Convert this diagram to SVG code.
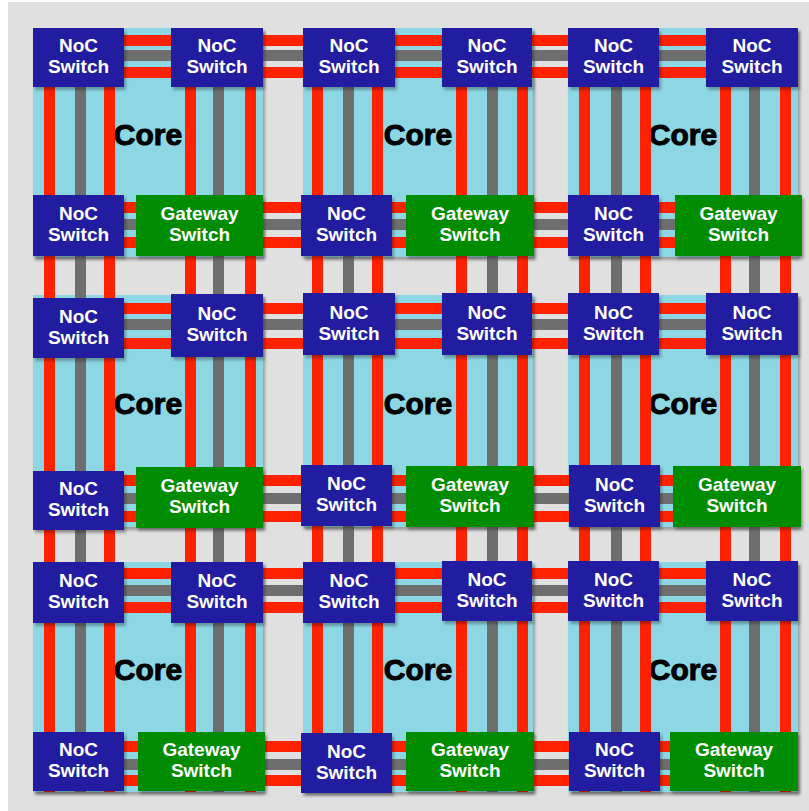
<svg xmlns="http://www.w3.org/2000/svg" width="809" height="811" viewBox="0 0 809 811">
<defs>
<filter id="sh" x="-10%" y="-10%" width="125%" height="125%">
<feDropShadow dx="2" dy="3" stdDeviation="1.5" flood-color="#000" flood-opacity="0.3"/>
</filter>
<style>
.core{fill:#8dd7e5;filter:url(#sh)}
.noc{fill:#221ea0;filter:url(#sh)}
.gw{fill:#008c00;filter:url(#sh)}
.r{fill:#ff2200}
.g{fill:#6e6e6e}
.t{font-family:"Liberation Sans",Arial,sans-serif;font-weight:bold;font-size:19px;fill:#fff;text-anchor:middle}
.c{font-family:"Liberation Sans",Arial,sans-serif;font-weight:bold;font-size:30px;fill:#000;stroke:#000;stroke-width:1;text-anchor:middle}
</style>
</defs>
<rect x="0" y="0" width="809" height="811" fill="#fff"/>
<rect x="8" y="2" width="801" height="809" fill="#e0e0e0"/>

<g id="cores">
<g id="core-1-1"><rect class="core" x="33" y="28" width="230" height="229"/><text class="c" x="148" y="145">Core</text></g>
<g id="core-1-2"><rect class="core" x="303" y="28" width="230" height="229"/><text class="c" x="418" y="145">Core</text></g>
<g id="core-1-3"><rect class="core" x="568" y="28" width="230" height="229"/><text class="c" x="683" y="145">Core</text></g>
<g id="core-2-1"><rect class="core" x="33" y="295" width="230" height="232"/><text class="c" x="148" y="413.5">Core</text></g>
<g id="core-2-2"><rect class="core" x="303" y="295" width="230" height="232"/><text class="c" x="418" y="413.5">Core</text></g>
<g id="core-2-3"><rect class="core" x="568" y="295" width="230" height="232"/><text class="c" x="683" y="413.5">Core</text></g>
<g id="core-3-1"><rect class="core" x="33" y="562" width="230" height="230"/><text class="c" x="148" y="679.5">Core</text></g>
<g id="core-3-2"><rect class="core" x="303" y="562" width="230" height="230"/><text class="c" x="418" y="679.5">Core</text></g>
<g id="core-3-3"><rect class="core" x="568" y="562" width="230" height="230"/><text class="c" x="683" y="679.5">Core</text></g>
</g>

<g id="connectors">
<rect class="r" x="33" y="35" width="765" height="11"/>
<rect class="g" x="33" y="50" width="765" height="11"/>
<rect class="r" x="33" y="67" width="765" height="11"/>
<rect class="r" x="33" y="202" width="765" height="11"/>
<rect class="g" x="33" y="219" width="765" height="11"/>
<rect class="r" x="33" y="237" width="765" height="11"/>
<rect class="r" x="33" y="303" width="765" height="11"/>
<rect class="g" x="33" y="319" width="765" height="11"/>
<rect class="r" x="33" y="338" width="765" height="11"/>
<rect class="r" x="33" y="475" width="765" height="11"/>
<rect class="g" x="33" y="493" width="765" height="11"/>
<rect class="r" x="33" y="511" width="765" height="11"/>
<rect class="r" x="33" y="568" width="765" height="11"/>
<rect class="g" x="33" y="585" width="765" height="11"/>
<rect class="r" x="33" y="602" width="765" height="11"/>
<rect class="r" x="33" y="741" width="765" height="11"/>
<rect class="g" x="33" y="759" width="765" height="11"/>
<rect class="r" x="33" y="775" width="765" height="11"/>

<rect class="r" x="44" y="28" width="11" height="764"/>
<rect class="g" x="75" y="28" width="11" height="764"/>
<rect class="r" x="104" y="28" width="11" height="764"/>
<rect class="r" x="185" y="28" width="11" height="764"/>
<rect class="g" x="213" y="28" width="11" height="764"/>
<rect class="r" x="245" y="28" width="11" height="764"/>
<rect class="r" x="312" y="28" width="11" height="764"/>
<rect class="g" x="343" y="28" width="11" height="764"/>
<rect class="r" x="372" y="28" width="11" height="764"/>
<rect class="r" x="456" y="28" width="11" height="764"/>
<rect class="g" x="487" y="28" width="11" height="764"/>
<rect class="r" x="517" y="28" width="11" height="764"/>
<rect class="r" x="579" y="28" width="11" height="764"/>
<rect class="g" x="611" y="28" width="11" height="764"/>
<rect class="r" x="640" y="28" width="11" height="764"/>
<rect class="r" x="720" y="28" width="11" height="764"/>
<rect class="g" x="749" y="28" width="11" height="764"/>
<rect class="r" x="780" y="28" width="11" height="764"/>
</g>

<!-- Row 1 -->
<g id="noc-1-1-tl"><rect class="noc" x="33" y="28" width="91" height="59"/><text class="t" x="78.5" y="52">NoC</text><text class="t" x="78.5" y="73">Switch</text></g>
<g id="noc-1-1-tr"><rect class="noc" x="171" y="28" width="92" height="59"/><text class="t" x="217" y="52">NoC</text><text class="t" x="217" y="73">Switch</text></g>
<g id="noc-1-1-bl"><rect class="noc" x="33" y="195" width="91" height="61"/><text class="t" x="78.5" y="220">NoC</text><text class="t" x="78.5" y="241">Switch</text></g>
<g id="gw-1-1"><rect class="gw" x="136" y="195" width="127" height="61"/><text class="t" x="199.5" y="220">Gateway</text><text class="t" x="199.5" y="241">Switch</text></g>

<g id="noc-1-2-tl"><rect class="noc" x="303" y="28" width="92" height="59"/><text class="t" x="349" y="52">NoC</text><text class="t" x="349" y="73">Switch</text></g>
<g id="noc-1-2-tr"><rect class="noc" x="442" y="28" width="90" height="59"/><text class="t" x="487" y="52">NoC</text><text class="t" x="487" y="73">Switch</text></g>
<g id="noc-1-2-bl"><rect class="noc" x="301" y="195" width="91" height="61"/><text class="t" x="346.5" y="220">NoC</text><text class="t" x="346.5" y="241">Switch</text></g>
<g id="gw-1-2"><rect class="gw" x="406" y="195" width="128" height="61"/><text class="t" x="470" y="220">Gateway</text><text class="t" x="470" y="241">Switch</text></g>

<g id="noc-1-3-tl"><rect class="noc" x="568" y="28" width="91" height="59"/><text class="t" x="613.5" y="52">NoC</text><text class="t" x="613.5" y="73">Switch</text></g>
<g id="noc-1-3-tr"><rect class="noc" x="706" y="28" width="92" height="59"/><text class="t" x="752" y="52">NoC</text><text class="t" x="752" y="73">Switch</text></g>
<g id="noc-1-3-bl"><rect class="noc" x="568" y="195" width="91" height="61"/><text class="t" x="613.5" y="220">NoC</text><text class="t" x="613.5" y="241">Switch</text></g>
<g id="gw-1-3"><rect class="gw" x="675" y="195" width="127" height="61"/><text class="t" x="738.5" y="220">Gateway</text><text class="t" x="738.5" y="241">Switch</text></g>

<!-- Row 2 -->
<g id="noc-2-1-tl"><rect class="noc" x="33" y="298" width="91" height="60"/><text class="t" x="78.5" y="322.5">NoC</text><text class="t" x="78.5" y="343.5">Switch</text></g>
<g id="noc-2-1-tr"><rect class="noc" x="171" y="294" width="92" height="63"/><text class="t" x="217" y="320">NoC</text><text class="t" x="217" y="341">Switch</text></g>
<g id="noc-2-1-bl"><rect class="noc" x="33" y="471" width="91" height="59"/><text class="t" x="78.5" y="495">NoC</text><text class="t" x="78.5" y="516">Switch</text></g>
<g id="gw-2-1"><rect class="gw" x="136" y="467" width="127" height="61"/><text class="t" x="199.5" y="492">Gateway</text><text class="t" x="199.5" y="513">Switch</text></g>

<g id="noc-2-2-tl"><rect class="noc" x="303" y="293" width="92" height="62"/><text class="t" x="349" y="318.5">NoC</text><text class="t" x="349" y="339.5">Switch</text></g>
<g id="noc-2-2-tr"><rect class="noc" x="442" y="293" width="90" height="62"/><text class="t" x="487" y="318.5">NoC</text><text class="t" x="487" y="339.5">Switch</text></g>
<g id="noc-2-2-bl"><rect class="noc" x="301" y="465" width="91" height="61"/><text class="t" x="346.5" y="490">NoC</text><text class="t" x="346.5" y="511">Switch</text></g>
<g id="gw-2-2"><rect class="gw" x="406" y="466" width="128" height="61"/><text class="t" x="470" y="491">Gateway</text><text class="t" x="470" y="512">Switch</text></g>

<g id="noc-2-3-tl"><rect class="noc" x="568" y="293" width="91" height="62"/><text class="t" x="613.5" y="318.5">NoC</text><text class="t" x="613.5" y="339.5">Switch</text></g>
<g id="noc-2-3-tr"><rect class="noc" x="706" y="293" width="92" height="62"/><text class="t" x="752" y="318.5">NoC</text><text class="t" x="752" y="339.5">Switch</text></g>
<g id="noc-2-3-bl"><rect class="noc" x="569" y="465" width="91" height="62"/><text class="t" x="614.5" y="490.5">NoC</text><text class="t" x="614.5" y="511.5">Switch</text></g>
<g id="gw-2-3"><rect class="gw" x="673" y="466" width="128" height="61"/><text class="t" x="737" y="491">Gateway</text><text class="t" x="737" y="512">Switch</text></g>

<!-- Row 3 -->
<g id="noc-3-1-tl"><rect class="noc" x="33" y="562" width="91" height="61"/><text class="t" x="78.5" y="587">NoC</text><text class="t" x="78.5" y="608">Switch</text></g>
<g id="noc-3-1-tr"><rect class="noc" x="171" y="562" width="92" height="61"/><text class="t" x="217" y="587">NoC</text><text class="t" x="217" y="608">Switch</text></g>
<g id="noc-3-1-bl"><rect class="noc" x="33" y="732" width="91" height="59"/><text class="t" x="78.5" y="756">NoC</text><text class="t" x="78.5" y="777">Switch</text></g>
<g id="gw-3-1"><rect class="gw" x="138" y="732" width="127" height="59"/><text class="t" x="201.5" y="756">Gateway</text><text class="t" x="201.5" y="777">Switch</text></g>

<g id="noc-3-2-tl"><rect class="noc" x="303" y="562" width="92" height="61"/><text class="t" x="349" y="587">NoC</text><text class="t" x="349" y="608">Switch</text></g>
<g id="noc-3-2-tr"><rect class="noc" x="442" y="561" width="90" height="60"/><text class="t" x="487" y="585.5">NoC</text><text class="t" x="487" y="606.5">Switch</text></g>
<g id="noc-3-2-bl"><rect class="noc" x="301" y="733" width="91" height="60"/><text class="t" x="346.5" y="757.5">NoC</text><text class="t" x="346.5" y="778.5">Switch</text></g>
<g id="gw-3-2"><rect class="gw" x="406" y="732" width="128" height="59"/><text class="t" x="470" y="756">Gateway</text><text class="t" x="470" y="777">Switch</text></g>

<g id="noc-3-3-tl"><rect class="noc" x="568" y="561" width="91" height="60"/><text class="t" x="613.5" y="585.5">NoC</text><text class="t" x="613.5" y="606.5">Switch</text></g>
<g id="noc-3-3-tr"><rect class="noc" x="706" y="561" width="92" height="60"/><text class="t" x="752" y="585.5">NoC</text><text class="t" x="752" y="606.5">Switch</text></g>
<g id="noc-3-3-bl"><rect class="noc" x="569" y="732" width="91" height="59"/><text class="t" x="614.5" y="756">NoC</text><text class="t" x="614.5" y="777">Switch</text></g>
<g id="gw-3-3"><rect class="gw" x="670" y="732" width="128" height="59"/><text class="t" x="734" y="756">Gateway</text><text class="t" x="734" y="777">Switch</text></g>
</svg>
